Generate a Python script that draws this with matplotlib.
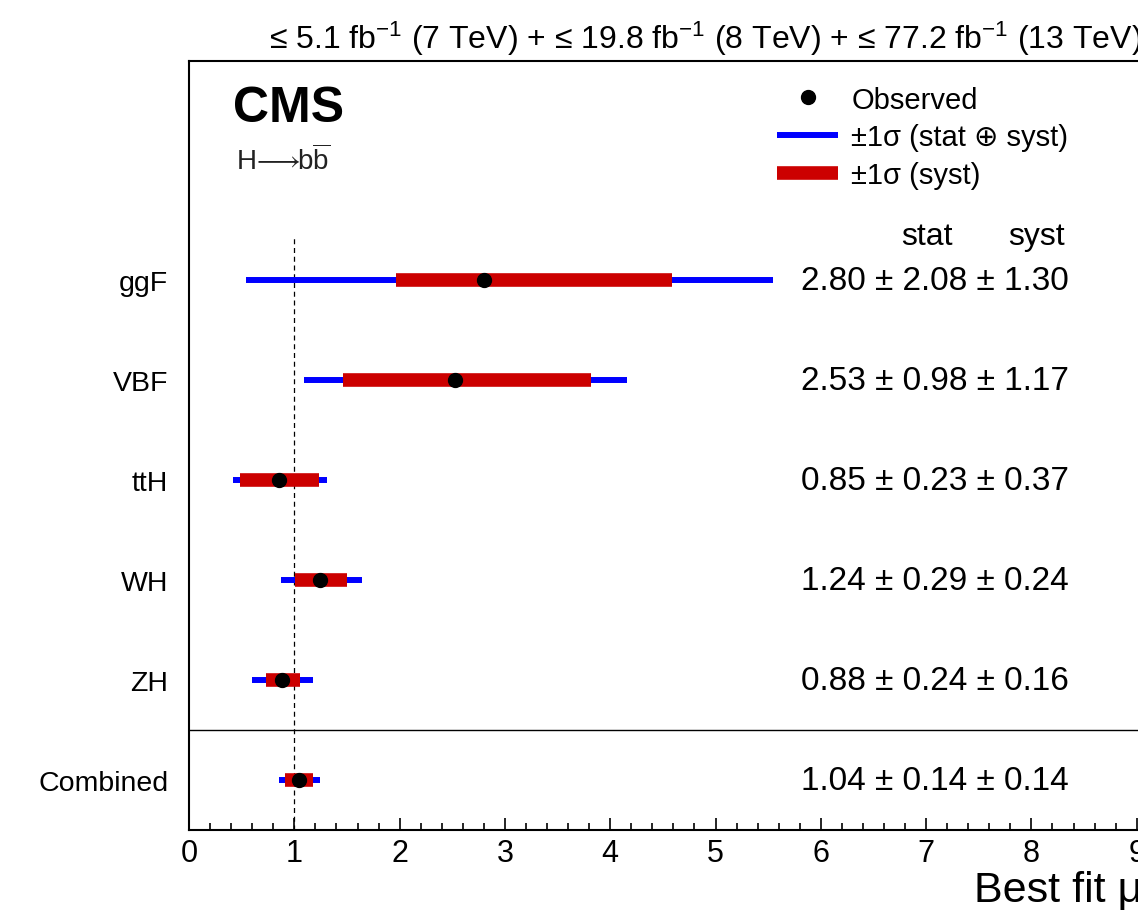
import matplotlib
matplotlib.use("Agg")
import matplotlib.pyplot as plt
import numpy as np
from matplotlib.ticker import MultipleLocator

plt.rcParams["font.family"] = ["Liberation Sans", "DejaVu Sans"]
plt.rcParams["mathtext.fontset"] = "custom"
plt.rcParams["mathtext.rm"] = "Liberation Sans"
plt.rcParams["mathtext.it"] = "Liberation Sans:italic"
plt.rcParams["mathtext.bf"] = "Liberation Sans:bold"

# Production modes, top to bottom
categories = ["ggF", "VBF", "ttH", "WH", "ZH", "Combined"]
mu_obs = [2.80, 2.53, 0.85, 1.24, 0.88, 1.04]
# +-1 sigma (stat + syst) interval edges
tot_lo = [0.54, 1.09, 0.42, 0.87, 0.60, 0.85]
tot_hi = [5.55, 4.16, 1.31, 1.64, 1.18, 1.24]
# +-1 sigma (syst) interval edges
syst_lo = [1.97, 1.46, 0.48, 1.01, 0.73, 0.91]
syst_hi = [4.59, 3.82, 1.23, 1.50, 1.05, 1.18]
# quoted symmetrised uncertainties
stat_err = [2.08, 0.98, 0.23, 0.29, 0.24, 0.14]
syst_err = [1.30, 1.17, 0.37, 0.24, 0.16, 0.14]

sm_value = 1.0
lumi_text = ("≤ 5.1 fb$^{-1}$ (7 TeV) + ≤ 19.8 fb$^{-1}$ (8 TeV)"
             " + ≤ 77.2 fb$^{-1}$ (13 TeV)")

n = len(categories)
y_pos = n - np.arange(n) - 0.5

fig = plt.figure(figsize=(11.38, 9.12), dpi=100)
ax = fig.add_axes([0.1661, 0.0888, 0.8374, 0.8432])

h_tot = ax.hlines(y_pos, tot_lo, tot_hi, color="#0000ff", linewidth=4.3, zorder=2)
h_syst = ax.hlines(y_pos, syst_lo, syst_hi, color="#cc0000", linewidth=9.8, zorder=3)
h_obs, = ax.plot(mu_obs, y_pos, "o", color="black", markersize=10, zorder=4,
                 linestyle="none")

ax.set_xlim(0, 9.05)
ax.set_ylim(0, 7.69)

# SM reference and separator for the combined result
ax.vlines(sm_value, 0, 5.95, color="black", linestyle=(0, (4, 3)), linewidth=0.9,
          zorder=1)
ax.axhline(1.0, color="black", linewidth=1.0, zorder=1)

# per-mode result text
for yy, m, st, sy in zip(y_pos, mu_obs, stat_err, syst_err):
    ax.text(5.81, yy, f"{m:.2f} ± {st:.2f} ± {sy:.2f}",
            ha="left", va="center", fontsize=24)
ax.text(7.01, 5.94, "stat", ha="center", va="center", fontsize=23)
ax.text(8.05, 5.94, "syst", ha="center", va="center", fontsize=23)

ax.set_yticks(y_pos)
ax.set_yticklabels(categories, fontsize=20.5)
ax.tick_params(axis="y", length=0, pad=15)

ax.xaxis.set_major_locator(MultipleLocator(1))
ax.xaxis.set_minor_locator(MultipleLocator(0.2))
ax.tick_params(axis="x", which="major", direction="in", length=9, width=1.2,
               labelsize=22, pad=6, top=False)
ax.tick_params(axis="x", which="minor", direction="in", length=5, width=1.2,
               top=False)
ax.set_xlabel("Best fit μ", loc="right", fontsize=31, labelpad=1)

for side in ["left", "bottom", "top"]:
    ax.spines[side].set_linewidth(1.5)
ax.spines["right"].set_visible(False)

ax.text(0.046, 0.922, "CMS", transform=ax.transAxes, fontsize=36,
        fontweight="bold", ha="left", va="baseline")
ax.text(0.049, 0.8596, r"H$\!\longrightarrow\!\!$b$\overline{\mathrm{b}}$",
        transform=ax.transAxes, fontsize=20, ha="left", va="baseline",
        color="#222222")
ax.text(1.0, 1.005, lumi_text, transform=ax.transAxes, fontsize=23,
        ha="right", va="bottom")

ax.legend([h_obs, h_tot, h_syst],
          ["Observed", "±1σ (stat ⊕ syst)", "±1σ (syst)"],
          loc="upper left", bbox_to_anchor=(0.617, 0.968), frameon=False,
          fontsize=21, handlelength=2.1, handletextpad=0.45, labelspacing=0.33,
          borderpad=0, borderaxespad=0)

fig.savefig("out.png", dpi=100, facecolor="white")
